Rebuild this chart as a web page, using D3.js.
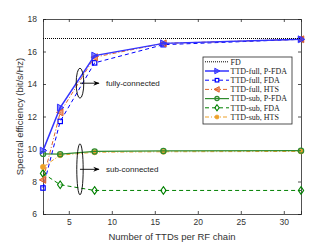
<!DOCTYPE html>
<html>
<head>
<meta charset="utf-8">
<script src="https://cdn.jsdelivr.net/npm/d3@7"></script>
<style>
  body { margin: 0; background: #fff; }
  svg { display: block; }
</style>
</head>
<body>
<svg id="chart"></svg>
<script>
(function(){

    // data
    var ttds = [2, 4, 8, 16, 32];
    var fdValue = 16.8;
    var fullPFDA = [9.9, 12.55, 15.75, 16.5, 16.75];
    var fullFDA  = [7.6, 11.7, 15.3, 16.42, 16.75];
    var fullHTS  = [8.1, 12.25, 15.65, 16.5, 16.75];
    var subPFDA  = [9.7, 9.68, 9.85, 9.88, 9.9];
    var subFDA   = [8.5, 7.8, 7.45, 7.45, 7.45];
    var subHTS   = [8.9, 9.62, 9.8, 9.83, 9.85];
    var xTicks = [5, 10, 15, 20, 25, 30];
    var yTicks = [6, 8, 10, 12, 14, 16, 18];

    var W = 332, H = 242;
    var margin = {top: 19, right: 31, bottom: 28, left: 43};
    var width = W - margin.left - margin.right;
    var height = H - margin.top - margin.bottom;

    var svg = d3.select("#chart")
        .attr("width", W)
        .attr("height", H)
        .style("font-family", "Liberation Sans, Arial, sans-serif");

    var g = svg.append("g")
        .attr("transform", "translate(" + margin.left + "," + margin.top + ")");

    var xScale = d3.scaleLinear().domain([2, 32]).range([0, width]);
    var yScale = d3.scaleLinear().domain([6, 18]).range([height, 0]);

    var axisColor = "#262626";
    var textColor = "#333";

    // axes (MATLAB style, ticks inside, box on)
    var xAxis = g.append("g")
        .attr("transform", "translate(0," + height + ")")
        .call(d3.axisBottom(xScale).tickValues(xTicks).tickSize(-3).tickPadding(5));
    var xTop = g.append("g")
        .call(d3.axisTop(xScale).tickValues(xTicks).tickSize(-3).tickFormat(""));
    var yAxis = g.append("g")
        .call(d3.axisLeft(yScale).tickValues(yTicks).tickSize(-3).tickPadding(6));
    var yRight = g.append("g")
        .attr("transform", "translate(" + width + ",0)")
        .call(d3.axisRight(yScale).tickValues(yTicks).tickSize(-3).tickFormat(""));

    [xAxis, xTop, yAxis, yRight].forEach(function(a){
        a.selectAll("path").attr("stroke", axisColor).attr("stroke-width", 0.8);
        a.selectAll("line").attr("stroke", axisColor).attr("stroke-width", 0.8);
        a.selectAll("text").attr("fill", textColor).style("font-size", "8.5px")
            .style("font-family", "Liberation Sans, Arial, sans-serif");
    });

    svg.append("text")
        .attr("x", margin.left + width / 2)
        .attr("y", 240)
        .attr("text-anchor", "middle")
        .attr("fill", textColor)
        .style("font-size", "9.5px")
        .text("Number of TTDs per RF chain");

    svg.append("text")
        .attr("transform", "translate(23," + (margin.top + height / 2) + ") rotate(-90)")
        .attr("text-anchor", "middle")
        .attr("fill", textColor)
        .style("font-size", "9.5px")
        .text("Spectral efficiency (bit/s/Hz)");

    // series
    var series = [
        {name: "TTD-sub, FDA",    vals: subFDA,   color: "#008000", dash: "4,3",     width: 1,   marker: "diamond", fill: "none", size: 3.8},
        {name: "TTD-sub, HTS",    vals: subHTS,   color: "#EDA12A", dash: "4,2,1,2", width: 1,   marker: "dot",     fill: "#EDA12A", size: 2.6},
        {name: "TTD-sub, P-FDA",  vals: subPFDA,  color: "#2E8B2E", dash: null,      width: 1.2, marker: "circle",  fill: "none", size: 2.6},
        {name: "TTD-full, FDA",   vals: fullFDA,  color: "#0000FF", dash: "4,3",     width: 1,   marker: "square",  fill: "none", size: 4.4},
        {name: "TTD-full, HTS",   vals: fullHTS,  color: "#E0622A", dash: "4,2,1,2", width: 1,   marker: "left",    fill: "#E0622A", size: 4.6},
        {name: "TTD-full, P-FDA", vals: fullPFDA, color: "#3333FF", dash: null,      width: 1.5, marker: "right",   fill: "#3333FF", size: 4.6}
    ];

    var line = d3.line()
        .x(function(d){ return xScale(d[0]); })
        .y(function(d){ return yScale(d[1]); });

    function drawMarker(sel, m, cx, cy) {
        var s = m.size;
        if (m.marker === "circle") {
            sel.append("circle").attr("cx", cx).attr("cy", cy).attr("r", s)
                .attr("fill", "none").attr("stroke", m.color).attr("stroke-width", 1.3);
        } else if (m.marker === "dot") {
            sel.append("circle").attr("cx", cx).attr("cy", cy).attr("r", s)
                .attr("fill", m.color).attr("stroke", m.color).attr("stroke-width", 0.6);
        } else if (m.marker === "square") {
            sel.append("rect").attr("x", cx - s / 2).attr("y", cy - s / 2)
                .attr("width", s).attr("height", s)
                .attr("fill", "none").attr("stroke", m.color).attr("stroke-width", 1.2);
        } else if (m.marker === "diamond") {
            sel.append("path")
                .attr("d", "M" + cx + "," + (cy - s) + "L" + (cx + s * 0.7) + "," + cy +
                    "L" + cx + "," + (cy + s) + "L" + (cx - s * 0.7) + "," + cy + "Z")
                .attr("fill", "none").attr("stroke", m.color).attr("stroke-width", 1.1);
        } else {
            var dir = m.marker === "right" ? 1 : -1;
            sel.append("path")
                .attr("d", "M" + (cx + dir * s * 0.8) + "," + cy +
                    "L" + (cx - dir * s * 0.6) + "," + (cy - s * 0.75) +
                    "L" + (cx - dir * s * 0.6) + "," + (cy + s * 0.75) + "Z")
                .attr("fill", m.fill).attr("fill-opacity", 0.6)
                .attr("stroke", m.color).attr("stroke-width", 1);
        }
    }

    series.forEach(function(s){
        var pts = ttds.map(function(t, i){ return [t, s.vals[i]]; });
        g.append("path")
            .datum(pts)
            .attr("d", line)
            .attr("fill", "none")
            .attr("stroke", s.color)
            .attr("stroke-width", s.width)
            .attr("stroke-dasharray", s.dash);
        var mg = g.append("g");
        pts.forEach(function(p){ drawMarker(mg, s, xScale(p[0]), yScale(p[1])); });
    });

    // FD reference line
    g.append("line")
        .attr("x1", xScale(2)).attr("x2", xScale(32))
        .attr("y1", yScale(fdValue)).attr("y2", yScale(fdValue))
        .attr("stroke", "#000").attr("stroke-width", 1)
        .attr("stroke-dasharray", "1,1");

    // annotations
    var defs = svg.append("defs");
    defs.append("marker")
        .attr("id", "arrow")
        .attr("viewBox", "0 0 10 10")
        .attr("refX", 9).attr("refY", 5)
        .attr("markerWidth", 7).attr("markerHeight", 7)
        .attr("orient", "auto")
        .append("path")
        .attr("d", "M0,1L10,5L0,9L3,5Z")
        .attr("fill", "#000");

    var notes = [
        {x: 6.3, y: 14.05, rx: 3.8, ry: 15, text: "fully-connected"},
        {x: 6.3, y: 8.75, rx: 3.2, ry: 25.5, text: "sub-connected"}
    ];
    notes.forEach(function(n){
        var cx = xScale(n.x), cy = yScale(n.y);
        g.append("ellipse")
            .attr("cx", cx).attr("cy", cy)
            .attr("rx", n.rx).attr("ry", n.ry)
            .attr("fill", "none").attr("stroke", "#000").attr("stroke-width", 0.9);
        g.append("line")
            .attr("x1", cx).attr("y1", cy)
            .attr("x2", cx + 19).attr("y2", cy)
            .attr("stroke", "#000").attr("stroke-width", 0.9)
            .attr("marker-end", "url(#arrow)");
        g.append("text")
            .attr("x", cx + 26).attr("y", cy + 3)
            .attr("fill", "#222")
            .style("font-size", "8px")
            .text(n.text);
    });

    // legend
    var legendItems = [
        {name: "FD", color: "#000", dash: "1,1", width: 1, marker: null},
        series[5], series[3], series[4], series[2], series[0], series[1]
    ];
    var lg = svg.append("g").attr("transform", "translate(203,57)");
    lg.append("rect")
        .attr("width", 89).attr("height", 67)
        .attr("fill", "#fff").attr("stroke", "#262626").attr("stroke-width", 0.8);
    legendItems.forEach(function(it, i){
        var yy = 4.8 + i * 9.2;
        lg.append("line")
            .attr("x1", 2).attr("x2", 26)
            .attr("y1", yy).attr("y2", yy)
            .attr("stroke", it.color)
            .attr("stroke-width", it.width)
            .attr("stroke-dasharray", it.dash);
        if (it.marker) {
            var m = Object.assign({}, it, {size: it.size * 0.8});
            drawMarker(lg, m, 14, yy);
        }
        lg.append("text")
            .attr("x", 27.5).attr("y", yy + 2.8)
            .attr("fill", "#222")
            .style("font-family", "Liberation Serif, Times New Roman, serif")
            .style("font-size", "8px")
            .text(it.name);
    });

})();
</script>
</body>
</html>
